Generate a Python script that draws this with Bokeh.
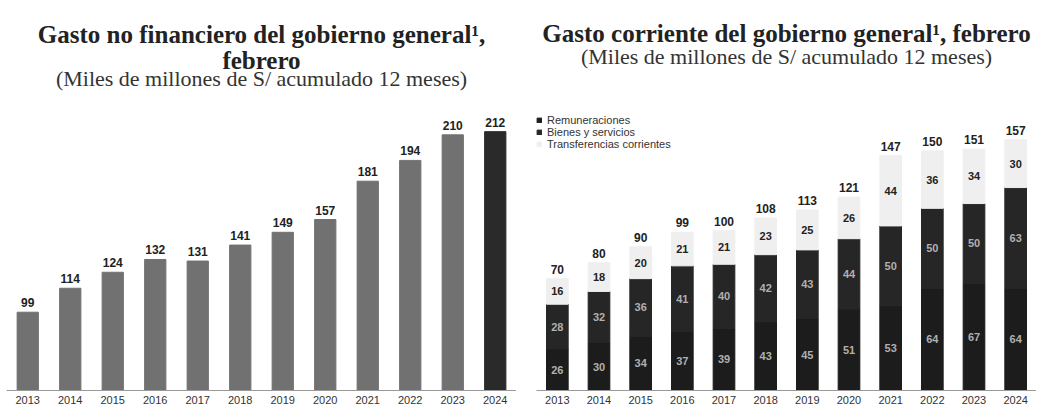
from bokeh.plotting import figure
from bokeh.models import Title, Range1d, ColumnDataSource
from bokeh.layouts import row
from bokeh.embed import file_html
from bokeh.resources import INLINE
from bokeh.core.properties import value

# ---------------- data ----------------
years = ["2013", "2014", "2015", "2016", "2017", "2018",
         "2019", "2020", "2021", "2022", "2023", "2024"]
gasto_no_financiero = [99, 114, 124, 132, 131, 141, 149, 157, 181, 194, 210, 212]

remuneraciones = [26, 30, 34, 37, 39, 43, 45, 51, 53, 64, 67, 64]
bienes_servicios = [28, 32, 36, 41, 40, 42, 43, 44, 50, 50, 50, 63]
transferencias = [16, 18, 20, 21, 21, 23, 25, 26, 44, 36, 34, 30]
gasto_corriente = [70, 80, 90, 99, 100, 108, 113, 121, 147, 150, 151, 157]

series_names = ["Remuneraciones", "Bienes y servicios", "Transferencias corrientes"]

title_left_1 = "Gasto no financiero del gobierno general\u00b9,"
title_left_2 = "febrero"
title_right = "Gasto corriente del gobierno general\u00b9, febrero"
subtitle = "(Miles de millones de S/ acumulado 12 meses)"

# ---------------- style ----------------
SERIF = "Liberation Serif"
SANS = "Liberation Sans"
GRAY = "#717171"
LAST = "#2a2a2a"
DARK1 = "#1c1c1c"
DARK2 = "#262626"
LIGHT = "#efefef"


def base_fig(width, y_range, border_left, border_right):
    p = figure(x_range=years, y_range=y_range, width=width, height=406,
               output_backend="svg", toolbar_location=None,
               min_border_left=border_left, min_border_right=border_right,
               min_border_top=88, min_border_bottom=0)
    p.title.text = ""
    p.yaxis.visible = False
    p.xgrid.grid_line_color = None
    p.ygrid.grid_line_color = None
    p.outline_line_color = None
    p.xaxis.axis_line_color = "#9a9a9a"
    p.xaxis.major_tick_line_color = None
    p.xaxis.major_tick_out = 0
    p.xaxis.major_tick_in = 0
    p.xaxis.minor_tick_line_color = None
    p.xaxis.major_label_text_font = SANS
    p.xaxis.major_label_text_font_size = "11px"
    p.xaxis.major_label_text_color = "#333333"
    p.xaxis.major_label_standoff = 5
    p.x_range.range_padding = 0
    return p


def title(text, size, bold, standoff):
    return Title(text=text, align="center", text_font=SERIF,
                 text_font_size=size, text_font_style="bold" if bold else "normal",
                 text_color="#222222" if bold else "#333333", standoff=standoff)


# ---------------- left chart ----------------
p1 = base_fig(516, Range1d(50, 239), 6, 0)
colors_left = [GRAY] * (len(years) - 1) + [LAST]
src1 = ColumnDataSource(dict(year=years, val=gasto_no_financiero, color=colors_left,
                             lab=[str(v) for v in gasto_no_financiero]))
p1.vbar(x="year", top="val", bottom=0, width=0.5, color="color", source=src1)
p1.text(x="year", y="val", text="lab", source=src1, y_offset=-5,
        text_align="center", text_baseline="bottom",
        text_font=value(SANS), text_font_size="12px", text_font_style="bold",
        text_color="#222222")
p1.add_layout(title(subtitle, "22px", False, -5.4), "above")
p1.add_layout(title(title_left_2, "25px", True, -14.7), "above")
p1.add_layout(title(title_left_1, "25px", True, 9.3), "above")

# ---------------- right chart ----------------
p2 = base_fig(520, Range1d(0, 189), 20, 0)
src2 = ColumnDataSource(dict(year=years, rem=remuneraciones, bys=bienes_servicios,
                             tra=transferencias))
p2.vbar_stack(["rem", "bys", "tra"], x="year", width=0.52,
              color=[DARK1, DARK2, LIGHT], source=src2,
              legend_label=series_names)

y_rem = [r / 2 for r in remuneraciones]
y_bys = [r + b / 2 for r, b in zip(remuneraciones, bienes_servicios)]
y_tra = [r + b + t / 2 for r, b, t in zip(remuneraciones, bienes_servicios, transferencias)]

common = dict(text_align="center", text_baseline="middle", text_font=value(SANS),
              text_font_size="11px", text_font_style="bold")
p2.text(x=years, y=y_rem, text=[str(v) for v in remuneraciones], text_color="#b0b0b0", **common)
p2.text(x=years, y=y_bys, text=[str(v) for v in bienes_servicios], text_color="#b0b0b0", **common)
p2.text(x=years, y=y_tra, text=[str(v) for v in transferencias], text_color="#222222", **common)
p2.text(x=years, y=gasto_corriente, text=[str(v) for v in gasto_corriente], y_offset=-5,
        text_align="center", text_baseline="bottom", text_font=value(SANS),
        text_font_size="12px", text_font_style="bold", text_color="#222222")

lg = p2.legend[0]
lg.location = (0, 240)
lg.label_text_font = SANS
lg.label_text_font_size = "11px"
lg.label_text_color = "#333333"
lg.glyph_width = 6
lg.glyph_height = 6
lg.label_height = 9
lg.spacing = 0
lg.padding = 0
lg.margin = 0
lg.label_standoff = 5
lg.background_fill_alpha = 0
lg.border_line_alpha = 0

# spacer below the subtitle, then subtitle, then title
p2.add_layout(Title(text=" ", text_font_size="10px", standoff=9.4), "above")
p2.add_layout(title(subtitle, "22px", False, -4.4), "above")
p2.add_layout(title(title_right, "25px", True, -7.7), "above")

layout = row(p1, p2)
open("out.html", "w").write(file_html(layout, INLINE))
